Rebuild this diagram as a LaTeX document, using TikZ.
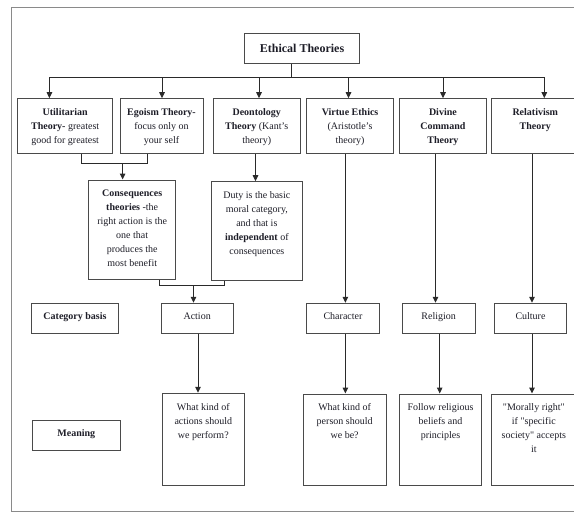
\documentclass[tikz,border=0pt]{standalone}
\usepackage{fontspec}
\setmainfont{Liberation Serif}
\usetikzlibrary{arrows.meta}
\definecolor{boxline}{HTML}{4A4A4A}
\definecolor{conline}{HTML}{2A2A2A}
\definecolor{framecol}{HTML}{8A8A8A}
\definecolor{txtcol}{HTML}{1E1E28}
\tikzset{
  box/.style={draw=boxline, line width=1pt, inner sep=0pt, fill=white},
  txt/.style={align=center, inner sep=0pt, text=txtcol, font=\fontsize{10}{14}\selectfont},
  con/.style={draw=conline, line width=1pt},
  arr/.style={con, -{Triangle[width=5.5pt,length=6pt]}}
}
\newcommand{\bx}[6]{%
  \node[box, minimum width={#4pt-#2pt}, minimum height={#5pt-#3pt}] (#1) at ({(#2+#4)/2},{(#3+#5)/2}) {};
  \node[txt, anchor=north] (#1-t) at ([yshift=-10pt]#1.north) {#6};}
\begin{document}
\begin{tikzpicture}[x=1pt,y=-1pt]
\useasboundingbox (0,0) rectangle (574,512);
\draw[framecol, line width=0.8pt] (11,7.5) rectangle (600,511);
% top
\node[box, minimum width=115pt, minimum height=30pt] (eth) at (302,48.3) {};
\node[txt, font=\fontsize{12}{14}\selectfont\bfseries] (eth-t) at (eth.center) {Ethical Theories};
\bx{util}{17.6}{98.7}{112.7}{153.3}{\textbf{Utilitarian}\\ \textbf{Theory-} greatest\\ good for greatest}
\bx{ego}{120}{98.7}{203}{153.3}{\textbf{Egoism Theory-}\\ focus only on\\ your self}
\bx{deon}{213.4}{98.7}{300}{153.3}{\textbf{Deontology}\\ \textbf{Theory} (Kant's\\ theory)}
\bx{virt}{306.7}{98.7}{393.5}{153.3}{\textbf{Virtue Ethics}\\ (Aristotle's\\ theory)}
\bx{div}{399}{98.7}{486.8}{153.3}{\textbf{Divine}\\ \textbf{Command}\\ \textbf{Theory}}
\bx{rel}{491.6}{98.7}{579}{153.3}{\textbf{Relativism}\\ \textbf{Theory}}
% middle
\bx{cons}{88.7}{180}{175.7}{279.3}{\textbf{Consequences}\\ \textbf{theories} -the\\ right action is the\\ one that\\ produces the\\ most benefit}
\bx{duty}{211}{181.7}{302.7}{280}{Duty is the basic\\ moral category,\\ and that is\\ \textbf{independent} of\\ consequences}
% category row
\bx{cat}{31.7}{303.3}{118.3}{333}{\textbf{Category basis}}
\bx{act}{161}{303.3}{233.3}{333}{Action}
\bx{char}{306.7}{303.3}{379.3}{333}{Character}
\bx{relig}{402.3}{303.3}{475}{333}{Religion}
\bx{cult}{494.3}{303.3}{566.7}{333}{Culture}
% meaning row
\bx{mean}{32.7}{420}{120}{450}{\textbf{Meaning}}
\bx{q1}{162.3}{393.3}{244.3}{485}{What kind of\\ actions should\\ we perform?}
\bx{q2}{303.3}{394}{386}{485}{What kind of\\ person should\\ we be?}
\bx{q3}{399.3}{394}{481.7}{485}{Follow religious\\ beliefs and\\ principles}
\bx{q4}{491.7}{394}{576}{485}{\textquotedbl Morally right\textquotedbl\\ if \textquotedbl specific\\ society\textquotedbl{} accepts\\ it}
% bus
\coordinate (stem) at (291.7,77);
\coordinate (b1) at (49.4,77);
\coordinate (b2) at (162,77);
\coordinate (b3) at (259,77);
\coordinate (b4) at (348.5,77);
\coordinate (b5) at (443,77);
\coordinate (b6) at (544.3,77);
\draw[con] (eth.south -| stem) -- (stem);
\draw[con] (b1) -- (b6);
\draw[arr] (b1) -- (b1 |- util.north);
\draw[arr] (b2) -- (b2 |- ego.north);
\draw[arr] (b3) -- (b3 |- deon.north);
\draw[arr] (b4) -- (b4 |- virt.north);
\draw[arr] (b5) -- (b5 |- div.north);
\draw[arr] (b6) -- (b6 |- rel.north);
% util + ego -> cons
\coordinate (j1) at (81.3,163.3);
\coordinate (j2) at (147.9,163.3);
\coordinate (j3) at (122.6,163.3);
\draw[con] (util.south -| j1) -- (j1) -- (j2) -- (ego.south -| j2);
\draw[arr] (j3) -- (j3 |- cons.north);
% deon -> duty
\coordinate (dx) at (255.5,0);
\draw[arr] (deon.south -| dx) -- (duty.north -| dx);
% cons + duty -> action
\coordinate (k1) at (159,285);
\coordinate (k2) at (224,285);
\coordinate (k3) at (193.5,285);
\draw[con] (cons.south -| k1) -- (k1) -- (k2) -- (duty.south -| k2);
\draw[arr] (k3) -- (k3 |- act.north);
\coordinate (ax) at (198,0);
\draw[arr] (act.south -| ax) -- (q1.north -| ax);
% virtue
\coordinate (vx) at (345.4,0);
\draw[arr] (virt.south -| vx) -- (char.north -| vx);
\draw[arr] (char.south -| vx) -- (q2.north -| vx);
% divine
\coordinate (dv1) at (435.5,0);
\coordinate (dv2) at (439.7,0);
\draw[arr] (div.south -| dv1) -- (relig.north -| dv1);
\draw[arr] (relig.south -| dv2) -- (q3.north -| dv2);
% relativism
\coordinate (rx) at (532,0);
\draw[arr] (rel.south -| rx) -- (cult.north -| rx);
\draw[arr] (cult.south -| rx) -- (q4.north -| rx);
\end{tikzpicture}
\end{document}
